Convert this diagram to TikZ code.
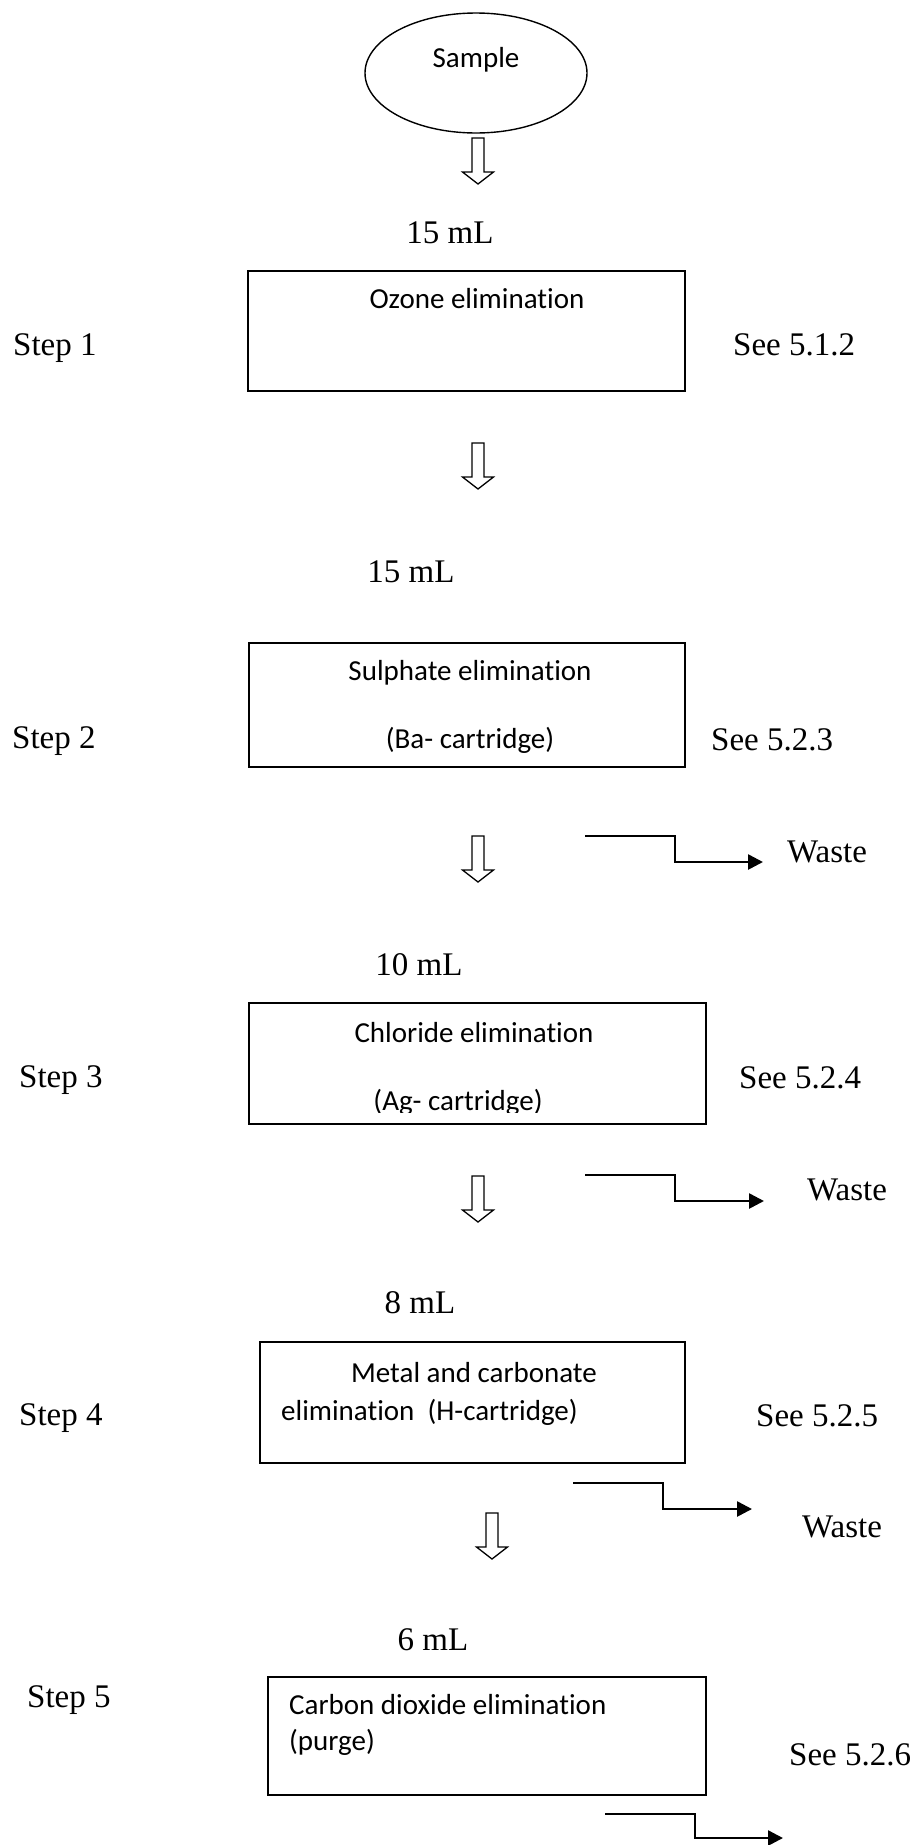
\documentclass[tikz,border=0pt]{standalone}
\usepackage{fontspec}
\setmainfont{Liberation Serif}
\newfontfamily\boxfont[Ligatures={NoCommon}]{Carlito}
\usetikzlibrary{shapes.geometric,arrows.meta}
\begin{document}
\begin{tikzpicture}[x=1pt,y=-1pt,
  stepbox/.style={draw, line width=1.6pt, anchor=north west, inner sep=0pt},
  lbl/.style={font=\fontsize{33}{40}\selectfont, inner sep=0pt, anchor=base},
  lblw/.style={lbl, anchor=base west},
  btxt/.style={font=\boxfont\fontsize{29}{35}\selectfont, inner sep=0pt, anchor=base},
  btxtw/.style={btxt, anchor=base west},
  wasteline/.style={line width=2.6pt, -{Triangle[length=15pt,width=15pt]}},
  blockarrow/.pic={\draw[line width=1.3pt, line join=miter]
     (-6,0) -- (6,0) -- (6,34) -- (15.5,34) -- (0,46) -- (-15.5,34) -- (-6,34) -- cycle;}
]
\fill[white] (0,0) rectangle (913,1845);
\useasboundingbox (0,0) rectangle (913,1845);

% Sample
\node[ellipse, draw, line width=1.4pt, minimum width=222, minimum height=120, inner sep=0pt] (sample) at (476,73) {};
\node[btxt] (sampletxt) at (476,67) {Sample};
\pic (a1) at (478,138) {blockarrow};

% Step 1
\node[lbl] (v1) at (450,243) {15 mL};
\node[stepbox, minimum width=437, minimum height=120] (b1) at (247,270) {};
\node[btxt] (t1) at (477,308) {Ozone elimination};
\node[lblw] (s1) at (13,355) {Step 1};
\node[lblw] (r1) at (733,355) {See 5.1.2};
\pic (a2) at (478,443) {blockarrow};

% Step 2
\node[lbl] (v2) at (411,582) {15 mL};
\node[stepbox, minimum width=436, minimum height=124] (b2) at (248,642) {};
\node[btxt] (t2a) at (470,680) {Sulphate elimination};
\node[btxt] (t2b) at (470,748) {(Ba- cartridge)};
\node[lblw] (s2) at (12,748) {Step 2};
\node[lblw] (r2) at (711,750) {See 5.2.3};
\pic (a3) at (478,836) {blockarrow};
\coordinate (w1s) at (585,836);
\coordinate (w1e) at (763,862);
\draw[wasteline] (w1s) -- ++(90,0) |- (w1e);
\node[lblw] (w1) at (787,862) {Waste};

% Step 3
\node[lbl] (v3) at (419,975) {10 mL};
\node[stepbox, minimum width=457, minimum height=121] (b3) at (248,1002) {};
\node[btxt] (t3a) at (474,1042) {Chloride elimination};
\begin{scope}
  \clip (248,1002) rectangle (705,1112);
  \node[btxt] (t3b) at (458,1110) {(Ag- cartridge)};
\end{scope}
\node[lblw] (s3) at (19,1087) {Step 3};
\node[lblw] (r3) at (739,1088) {See 5.2.4};
\pic (a4) at (478,1176) {blockarrow};
\coordinate (w2s) at (585,1175);
\coordinate (w2e) at (764,1201);
\draw[wasteline] (w2s) -- ++(90,0) |- (w2e);
\node[lblw] (w2) at (807,1200) {Waste};

% Step 4
\node[lbl] (v4) at (420,1313) {8 mL};
\node[stepbox, minimum width=425, minimum height=121] (b4) at (259,1341) {};
\node[btxt] (t4a) at (474,1382) {Metal and carbonate};
\node[btxtw] (t4b) at (281,1420) {elimination\ \ (H-cartridge)};
\node[lblw] (s4) at (19,1425) {Step 4};
\node[lblw] (r4) at (756,1426) {See 5.2.5};
\coordinate (w3s) at (573,1483);
\coordinate (w3e) at (752,1509);
\draw[wasteline] (w3s) -- ++(90,0) |- (w3e);
\node[lblw] (w3) at (802,1537) {Waste};
\pic (a5) at (492,1513) {blockarrow};

% Step 5
\node[lbl] (v5) at (433,1650) {6 mL};
\node[stepbox, minimum width=438, minimum height=118] (b5) at (267,1676) {};
\node[btxtw] (t5a) at (289,1714) {Carbon dioxide elimination};
\node[btxtw] (t5b) at (289,1750) {(purge)};
\node[lblw] (s5) at (27,1707) {Step 5};
\node[lblw] (r5) at (789,1765) {See 5.2.6};
\coordinate (w4s) at (605,1814);
\coordinate (w4e) at (783,1838);
\draw[wasteline] (w4s) -- ++(90,0) |- (w4e);
\end{tikzpicture}
\end{document}
